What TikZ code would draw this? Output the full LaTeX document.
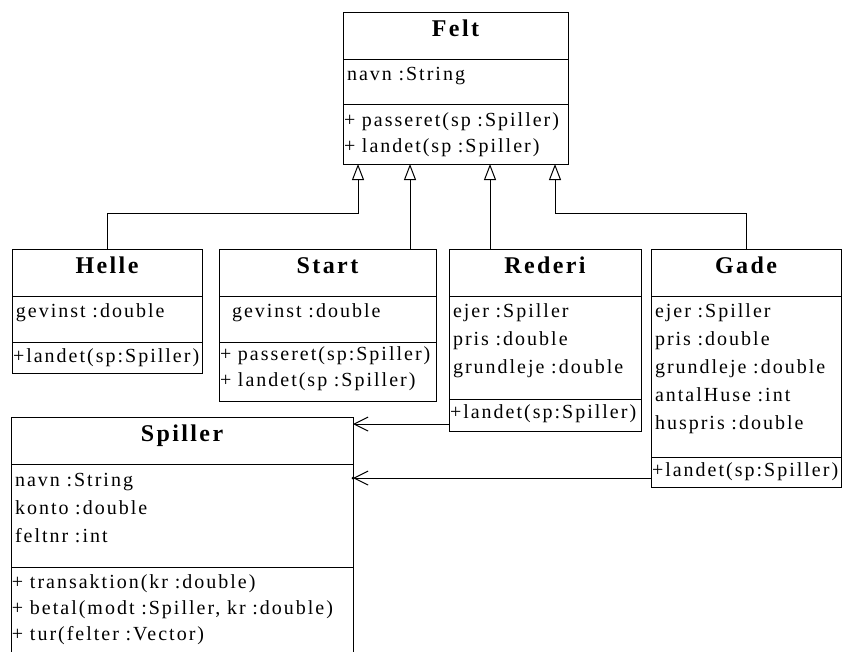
\documentclass[tikz,border=0pt]{standalone}
\usepackage{fontspec}
\setmainfont{Liberation Serif}[LetterSpace=10]
\usetikzlibrary{arrows.meta, positioning, calc}

\begin{document}
\begin{tikzpicture}[
        x=1pt, y=-1pt,
        line width=1pt,
        part/.style={draw, outer sep=0pt, inner ysep=0pt, align=left},
        head/.style={part, align=center, inner xsep=0pt, minimum width=#1,
          font=\fontsize{24}{28}\selectfont\bfseries,
          text height=24pt, text depth=23pt},
        attrs/.style={part, inner xsep=4pt, text height=21pt,
          font=\fontsize{20}{28}\selectfont},
        ops/.style={part, inner xsep=1pt, text height=19pt,
          font=\fontsize{20}{26}\selectfont},
        inherit/.style={-{Triangle[open, length=16pt, width=12pt]}},
        assoc/.style={-{Straight Barb[length=14pt, width=14pt]}}
      ]

      \fill[white] (0,0) rectangle (842,651);
      \useasboundingbox (0,0) rectangle (842,651);

      % superclass
      \node[head=225pt, anchor=north west] (felt) at (343,12) {Felt};
      \node[attrs, text width=217pt, text depth=24pt, below=0pt of felt] (felt-a) {navn :String};
      \node[ops, text width=223pt, text height=22pt, text depth=38pt, below=0pt of felt-a] (felt-o) {+ passeret(sp :Spiller)\\+ landet(sp :Spiller)};

      % subclasses
      \node[head=190pt, anchor=north west] (helle) at (12,249) {Helle};
      \node[attrs, text width=182pt, text depth=25pt, below=0pt of helle] (helle-a) {gevinst :double};
      \node[ops, text width=188pt, text height=20pt, text depth=11pt, below=0pt of helle-a] (helle-o) {+landet(sp:Spiller)};

      \node[head=217pt, anchor=north west] (start) at (219,249) {Start};
      \node[attrs, inner xsep=13pt, text width=191pt, text depth=25pt, below=0pt of start] (start-a) {gevinst :double};
      \node[ops, text width=215pt, text height=18pt, text depth=41pt, below=0pt of start-a] (start-o) {+ passeret(sp:Spiller)\\+ landet(sp :Spiller)};

      \node[head=192pt, anchor=north west] (rederi) at (449,249) {Rederi};
      \node[attrs, text width=184pt, text depth=82pt, below=0pt of rederi] (rederi-a) {ejer :Spiller\\pris :double\\grundleje :double};
      \node[ops, text width=190pt, text depth=13pt, below=0pt of rederi-a] (rederi-o) {+landet(sp:Spiller)};

      \node[head=190pt, anchor=north west] (gade) at (651,249) {Gade};
      \node[attrs, text width=182pt, text depth=140pt, below=0pt of gade] (gade-a) {ejer :Spiller\\pris :double\\grundleje :double\\antalHuse :int\\huspris :double};
      \node[ops, text width=188pt, text depth=11pt, below=0pt of gade-a] (gade-o) {+landet(sp:Spiller)};

      % player
      \node[head=342pt, anchor=north west] (spiller) at (11,417) {Spiller};
      \node[attrs, text width=334pt, text height=22pt, text depth=81pt, below=0pt of spiller] (spiller-a) {navn :String\\konto :double\\feltnr :int};
      \node[ops, text width=340pt, text height=21pt, text depth=79pt, below=0pt of spiller-a] (spiller-o) {+ transaktion(kr :double)\\+ betal(modt :Spiller, kr :double)\\+ tur(felter :Vector)};

      % generalisation
      \coordinate (g1) at ($(felt-o.south west)+(15,0)$);
      \coordinate (g2) at ($(felt-o.south west)+(67,0)$);
      \coordinate (g3) at ($(felt-o.south west)+(147,0)$);
      \coordinate (g4) at ($(felt-o.south west)+(212,0)$);
      \draw[inherit] (helle.north) -- ++(0,-36) -| (g1);
      \draw[inherit] (start.north -| g2) -- (g2);
      \draw[inherit] (rederi.north -| g3) -- (g3);
      \draw[inherit] (gade.north) -- ++(0,-36) -| (g4);

      % owner links
      \coordinate (r1) at ($(rederi-o.south west)+(0,-7)$);
      \coordinate (r2) at ($(gade-o.south west)+(0,-9)$);
      \draw[assoc] (r1) -- (r1 -| spiller.east);
      \draw[assoc] (r2) -- (r2 -| spiller-a.east);
      \fill (r2 -| spiller-a.east) circle (1.5);
    \end{tikzpicture}
\end{document}
